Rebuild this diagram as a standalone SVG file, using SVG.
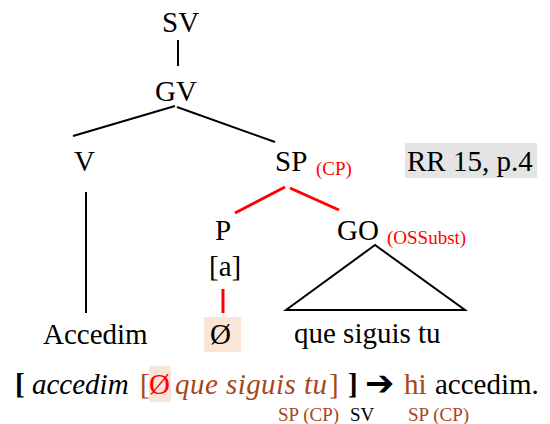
<svg xmlns="http://www.w3.org/2000/svg" width="550" height="424" viewBox="0 0 550 424">
  <style>
    text { font-family: "Liberation Serif", "Times New Roman", serif; fill: #000; }
    .lbl { font-size: 29px; }
    .sub { font-size: 19px; }
    .red { fill: #ff0000; }
    .brown { fill: #a8461a; }
    .it { font-style: italic; }
    .b { font-weight: bold; }
    .edge { stroke: #000; stroke-width: 2; fill: none; }
    .edge-red { stroke: #ff0000; stroke-width: 3; fill: none; }
    .hl { fill: #fbe5d6; }
  </style>
  <rect width="550" height="424" fill="#fff"/>

  <!-- tree branches -->
  <g id="connectors">
    <line class="edge" x1="178" y1="40" x2="178" y2="66"/>
    <line class="edge" x1="175" y1="106" x2="73" y2="136"/>
    <line class="edge" x1="177" y1="107" x2="275" y2="142"/>
    <line class="edge" x1="86" y1="192" x2="86" y2="313"/>
    <line class="edge-red" x1="285" y1="187" x2="235" y2="213"/>
    <line class="edge-red" x1="290" y1="188" x2="339" y2="210"/>
    <line class="edge-red" x1="223" y1="289" x2="223" y2="313"/>
    <polygon class="edge" points="375,245 286,310 465,310"/>
  </g>

  <g id="node-sv"><text class="lbl" x="162" y="32">SV</text></g>
  <g id="node-gv"><text class="lbl" x="155" y="101">GV</text></g>
  <g id="node-v"><text class="lbl" x="74" y="171">V</text></g>
  <g id="node-sp">
    <text class="lbl" x="275" y="171">SP</text>
    <text class="sub red" x="316" y="175">(CP)</text>
  </g>
  <g id="ref-tag">
    <rect x="405" y="143" width="132" height="35" fill="#e4e4e4"/>
    <text class="lbl" x="407" y="171">RR 15, p.4</text>
  </g>
  <g id="node-p">
    <text class="lbl" x="215" y="240">P</text>
    <text class="lbl" x="209" y="276">[a]</text>
  </g>
  <g id="node-go">
    <text class="lbl" x="337" y="240">GO</text>
    <text class="sub red" x="387" y="244">(OSSubst)</text>
  </g>
  <g id="leaf-accedim"><text class="lbl" x="43" y="344">Accedim</text></g>
  <g id="leaf-null">
    <rect class="hl" x="204" y="317" width="37" height="35"/>
    <text class="lbl" x="210" y="344">Ø</text>
  </g>
  <g id="leaf-que"><text class="lbl" x="294" y="343">que siguis tu</text></g>

  <!-- bracketed analysis line -->
  <g id="analysis">
    <rect class="hl" x="149" y="366" width="22" height="36"/>
    <text class="lbl b" x="15" y="394">[</text>
    <text class="lbl it" x="32" y="394">accedim</text>
    <text class="lbl brown" x="140" y="394">[</text>
    <text class="lbl red" x="149" y="394">Ø</text>
    <text class="lbl it brown" x="175" y="394" textLength="152" lengthAdjust="spacing">que siguis tu</text>
    <text class="lbl brown" x="329" y="394">]</text>
    <text class="lbl b" x="348" y="394">]</text>
    <text x="365" y="395" style="font-family:'DejaVu Sans',sans-serif;font-size:35px;font-weight:bold">➔</text>
    <text class="lbl brown" x="404" y="394">hi</text>
    <text class="lbl" x="435" y="394">accedim.</text>
    <text class="sub brown" x="278" y="421">SP (CP)</text>
    <text class="sub" x="350" y="421">SV</text>
    <text class="sub brown" x="408" y="421">SP (CP)</text>
  </g>
</svg>
